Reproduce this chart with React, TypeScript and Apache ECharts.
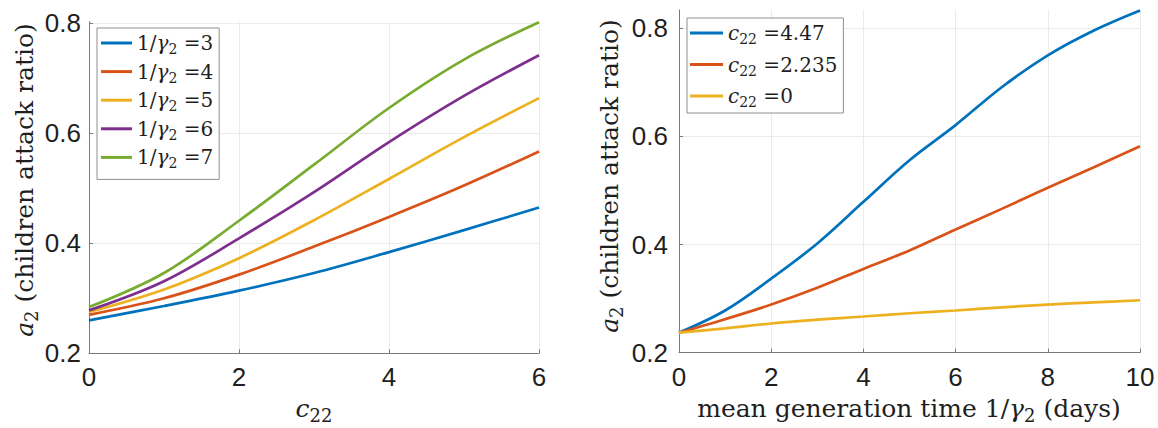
import React, { useEffect, useRef } from 'react';
import * as echarts from 'echarts';

// ---------- data ----------
const leftX = [0, 1, 2, 3, 4, 5, 6];
const gammaInv = [3, 4, 5, 6, 7];
const leftG3 = [0.260, 0.286, 0.314, 0.346, 0.384, 0.424, 0.465];
const leftG4 = [0.270, 0.300, 0.343, 0.394, 0.448, 0.505, 0.567];
const leftG5 = [0.275, 0.316, 0.373, 0.442, 0.517, 0.593, 0.664];
const leftG6 = [0.278, 0.331, 0.409, 0.493, 0.584, 0.668, 0.742];
const leftG7 = [0.284, 0.346, 0.441, 0.543, 0.646, 0.734, 0.802];
const leftValues = [leftG3, leftG4, leftG5, leftG6, leftG7];

const rightX = [0, 1, 2, 3, 4, 5, 6, 7, 8, 9, 10];
const c22Labels = ['4.47', '2.235', '0'];
const rightC447 = [0.237, 0.278, 0.337, 0.402, 0.479, 0.556, 0.621, 0.691, 0.750, 0.796, 0.833];
const rightC2235 = [0.237, 0.262, 0.289, 0.320, 0.355, 0.389, 0.428, 0.466, 0.505, 0.543, 0.582];
const rightC0 = [0.237, 0.245, 0.254, 0.261, 0.267, 0.273, 0.278, 0.284, 0.289, 0.293, 0.297];
const rightValues = [rightC447, rightC2235, rightC0];

const leftXTicks = { min: 0, max: 6, interval: 2 };
const rightXTicks = { min: 0, max: 10, interval: 2 };
const leftYTicks = { min: 0.2, max: 0.803, interval: 0.2 };
const rightYTicks = { min: 0.2, max: 0.834, interval: 0.2 };

const COLORS = ['#0072BD', '#D95319', '#EDB120', '#7E2F8E', '#77AC30'];

// ---------- styles ----------
const SERIF = 'DejaVu Serif';
const SANS = 'Liberation Sans';
const TEXT = '#1f1f1f';
const AXIS = '#7a7a7a';
const GRIDC = '#ebebeb';

function rich(size: number) {
  return {
    n: { fontFamily: SERIF, fontSize: size, lineHeight: Math.round(size * 1.3), verticalAlign: 'middle', color: TEXT, fill: TEXT },
    i: { fontFamily: SERIF, fontStyle: 'italic', fontSize: size, lineHeight: Math.round(size * 1.3), verticalAlign: 'middle', color: TEXT, fill: TEXT },
    s: { fontFamily: SERIF, fontSize: Math.round(size * 0.7), lineHeight: Math.round(size * 0.7), verticalAlign: 'bottom', color: TEXT, fill: TEXT },
  };
}

const leftNames = gammaInv.map((g) => `1/γ₂ =${g}`);
const rightNames = c22Labels.map((c) => `c₂₂ =${c}`);

function legendFormatter(name: string) {
  const li = leftNames.indexOf(name);
  if (li >= 0) return `{n|1/}{i|γ}{s|2}{n| =${gammaInv[li]}}`;
  const ri = rightNames.indexOf(name);
  if (ri >= 0) return `{i|c}{s|22}{n| =${c22Labels[ri]}}`;
  return name;
}

function xAxisCfg(grid: number, t: { min: number; max: number; interval: number }) {
  return {
    gridIndex: grid,
    type: 'value',
    min: t.min,
    max: t.max,
    interval: t.interval,
    axisLine: { show: true, onZero: false, lineStyle: { color: AXIS, width: 1 } },
    axisTick: { show: true, inside: true, length: 4, lineStyle: { color: AXIS, width: 1 } },
    axisLabel: { fontFamily: SANS, fontSize: 26, color: TEXT, margin: 11 },
    splitLine: { show: true, lineStyle: { color: GRIDC, width: 1 } },
  };
}

function yAxisCfg(grid: number, t: { min: number; max: number; interval: number }, margin: number) {
  return {
    gridIndex: grid,
    type: 'value',
    min: t.min,
    max: t.max,
    interval: t.interval,
    axisLine: { show: true, onZero: false, lineStyle: { color: AXIS, width: 1 } },
    axisTick: { show: true, inside: true, length: 4, lineStyle: { color: AXIS, width: 1 } },
    axisLabel: {
      fontFamily: SANS,
      fontSize: 26,
      color: TEXT,
      margin,
      showMaxLabel: false,
      formatter: (v: number) => v.toFixed(1),
    },
    splitLine: { show: true, showMaxLine: false, lineStyle: { color: GRIDC, width: 1 } },
  };
}

function legendCfg(names: string[], left: number, top: number, itemWidth: number, itemGap: number, padding: number[]) {
  return {
    data: names,
    orient: 'vertical',
    left,
    top,
    itemWidth,
    itemHeight: 3,
    icon: 'rect',
    itemGap,
    padding,
    selectedMode: false,
    borderColor: '#8f8f8f',
    borderWidth: 1,
    borderRadius: 0,
    backgroundColor: '#ffffff',
    formatter: legendFormatter,
    textStyle: { fontFamily: SERIF, fontSize: 20, color: TEXT, rich: rich(20) },
  };
}

function titleText(x: number, y: number, text: string, rotate: boolean) {
  return {
    type: 'text',
    x,
    y,
    rotation: rotate ? Math.PI / 2 : 0,
    silent: true,
    style: {
      text,
      rich: rich(25),
      fontFamily: SERIF,
      fontSize: 25,
      fill: TEXT,
      align: 'center',
      verticalAlign: 'middle',
      textAlign: 'center',
      textVerticalAlign: 'middle',
    },
  };
}

export default function App() {
  const ref = useRef<HTMLDivElement>(null);
  useEffect(() => {
    if (!ref.current) return;
    const chart = echarts.init(ref.current, undefined, { renderer: 'svg' });
    const series: any[] = [];
    leftValues.forEach((vals, i) => {
      series.push({
        name: leftNames[i],
        type: 'line',
        xAxisIndex: 0,
        yAxisIndex: 0,
        data: leftX.map((x, j) => [x, vals[j]]),
        showSymbol: false,
        symbol: 'none',
        smooth: 0.35,
        color: COLORS[i],
        lineStyle: { color: COLORS[i], width: 2.7 },
      });
    });
    rightValues.forEach((vals, i) => {
      series.push({
        name: rightNames[i],
        type: 'line',
        xAxisIndex: 1,
        yAxisIndex: 1,
        data: rightX.map((x, j) => [x, vals[j]]),
        showSymbol: false,
        symbol: 'none',
        smooth: 0.35,
        color: COLORS[i],
        lineStyle: { color: COLORS[i], width: 2.7 },
      });
    });

    chart.setOption({
      animation: false,
      backgroundColor: '#ffffff',
      grid: [
        { left: 89, top: 21.65, width: 450, height: 331.65 },
        { left: 679, top: 9.9, width: 461, height: 342.8 },
      ],
      xAxis: [xAxisCfg(0, leftXTicks), xAxisCfg(1, rightXTicks)],
      yAxis: [yAxisCfg(0, leftYTicks, 8), yAxisCfg(1, rightYTicks, 11)],
      legend: [
        legendCfg(leftNames, 97, 28, 31, 5.6, [5, 6, 9, 4]),
        legendCfg(rightNames, 687, 18, 33, 8.5, [5, 6, 4, 3]),
      ],
      graphic: [
        titleText(24, 180, '{i|a}{s|2}{n| (children attack ratio)}', true),
        titleText(609, 176, '{i|a}{s|2}{n| (children attack ratio)}', true),
        titleText(314, 408, '{i|c}{s|22}', false),
        titleText(909, 408, '{n|mean generation time 1/}{i|γ}{s|2}{n| (days)}', false),
      ],
      series,
    });
    return () => chart.dispose();
  }, []);
  return (
    <div
      ref={ref}
      style={{ position: 'absolute', left: 0, top: 0, width: 1158, height: 428, background: '#fff' }}
    />
  );
}
